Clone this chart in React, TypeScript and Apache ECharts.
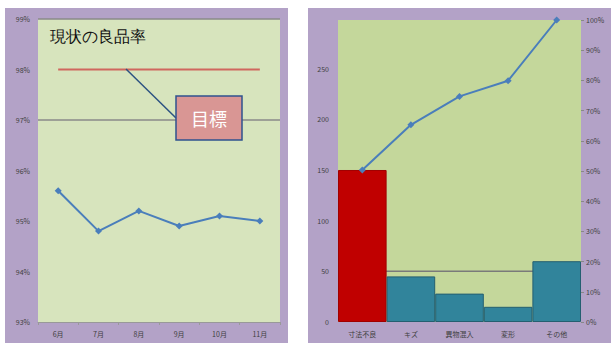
import React, { useEffect, useRef } from "react";
import * as echarts from "echarts";

const months = ["6月", "7月", "8月", "9月", "10月", "11月"];
const yieldRate = [95.6, 94.8, 95.2, 94.9, 95.1, 95.0];
const targetRate = [98, 98, 98, 98, 98, 98];
const leftRefLines = [97, 99];

const defects = ["寸法不良", "キズ", "異物混入", "変形", "その他"];
const defectCounts = [150, 45, 28, 15, 60];
const cumulativePct = [50.3, 65.3, 74.7, 79.9, 100];
const rightRef = [50, 50, 50, 50, 50];

const LABEL_COLOR = "#404040";
const FONT = "'Noto Sans CJK JP', 'Noto Sans', sans-serif";

export default function App() {
  const ref = useRef<HTMLDivElement>(null);
  useEffect(() => {
    if (!ref.current) return;
    const chart = echarts.init(ref.current, undefined, { renderer: "svg" });
    const axisLabel = { color: LABEL_COLOR, fontSize: 7, fontFamily: FONT };
    chart.setOption({
      animation: false,
      textStyle: { fontFamily: FONT },
      graphic: [
        { type: "rect", z: -10, shape: { x: 5, y: 8, width: 283, height: 335 }, style: { fill: "#b3a2c7" } },
        { type: "rect", z: -10, shape: { x: 308, y: 8, width: 303, height: 335 }, style: { fill: "#b3a2c7" } },
        {
          type: "text", z: 20, left: 50, top: 28,
          style: { text: "現状の良品率", fontSize: 16, fill: "#111", font: `16px ${FONT}` },
        },
        { type: "line", z: 20, shape: { x1: 126, y1: 69, x2: 176, y2: 118 }, style: { stroke: "#2c5282", lineWidth: 1.5 } },
        {
          type: "rect", z: 21, shape: { x: 176, y: 96, width: 66, height: 44 },
          style: { fill: "#d99694", stroke: "#2f528f", lineWidth: 1.5 },
        },
        {
          type: "text", z: 22, x: 209, y: 118,
          style: { text: "目標", fill: "#ffffff", font: `18px ${FONT}`, align: "center", verticalAlign: "middle" },
        },
      ],
      grid: [
        { left: 38, top: 19, width: 242, height: 303, show: true, backgroundColor: "#d7e4bd", borderWidth: 0 },
        { left: 338, top: 20, width: 243, height: 302, show: true, backgroundColor: "#c4d79b", borderWidth: 0 },
      ],
      xAxis: [
        {
          gridIndex: 0, type: "category", data: months, boundaryGap: true,
          axisLine: { lineStyle: { color: "#999", width: 1 } },
          axisTick: { show: true, length: 3, lineStyle: { color: "#999" } },
          axisLabel: { ...axisLabel, margin: 8 },
        },
        {
          gridIndex: 1, type: "category", data: defects, boundaryGap: true,
          axisLine: { show: false },
          axisTick: { show: false },
          axisLabel: { ...axisLabel, margin: 8 },
        },
      ],
      yAxis: [
        {
          gridIndex: 0, type: "value", min: 93, max: 99, interval: 1,
          axisLine: { show: false }, axisTick: { show: false }, splitLine: { show: false },
          axisLabel: { ...axisLabel, margin: 8, formatter: (v: number) => `${v}%` },
        },
        {
          gridIndex: 1, type: "value", min: 0, max: 298, interval: 50,
          axisLine: { show: false }, axisTick: { show: false }, splitLine: { show: false },
          axisLabel: { ...axisLabel, margin: 9, showMaxLabel: false },
        },
        {
          gridIndex: 1, type: "value", position: "right", min: 0, max: 100, interval: 10,
          axisLine: { show: false },
          axisTick: { show: true, length: 3, lineStyle: { color: "#888" } },
          splitLine: { show: false },
          axisLabel: { ...axisLabel, margin: 5, formatter: (v: number) => `${v}%` },
        },
      ],
      series: [
        {
          type: "line", xAxisIndex: 0, yAxisIndex: 0, data: targetRate, z: 3,
          symbol: "none", lineStyle: { color: "#d0675e", width: 2 },
          markLine: {
            silent: true, symbol: "none", label: { show: false },
            lineStyle: { color: "#8a8a8a", width: 1.5, type: "solid" },
            data: leftRefLines.map((v) => ({ yAxis: v })),
          },
        },
        {
          type: "line", xAxisIndex: 0, yAxisIndex: 0, data: yieldRate, z: 4,
          symbol: "diamond", symbolSize: 7,
          itemStyle: { color: "#4a7ebb" }, lineStyle: { color: "#4a7ebb", width: 2 },
        },
        {
          type: "line", xAxisIndex: 1, yAxisIndex: 1, data: rightRef, z: 1,
          symbol: "none", lineStyle: { color: "#7a7a7a", width: 1.5 },
        },
        {
          type: "bar", xAxisIndex: 1, yAxisIndex: 1, z: 2, barCategoryGap: 0,
          data: defectCounts.map((v, i) => ({
            value: v,
            itemStyle: i === 0
              ? { color: "#c00000", borderColor: "#a00000", borderWidth: 1 }
              : { color: "#31849b", borderColor: "#245f70", borderWidth: 1 },
          })),
        },
        {
          type: "line", xAxisIndex: 1, yAxisIndex: 2, data: cumulativePct, z: 5,
          symbol: "diamond", symbolSize: 7,
          itemStyle: { color: "#4a7ebb" }, lineStyle: { color: "#4a7ebb", width: 2 },
        },
      ],
    });
    return () => chart.dispose();
  }, []);
  return (
    <div
      ref={ref}
      style={{ position: "absolute", left: 0, top: 0, width: 611, height: 343, background: "#ffffff" }}
    />
  );
}
